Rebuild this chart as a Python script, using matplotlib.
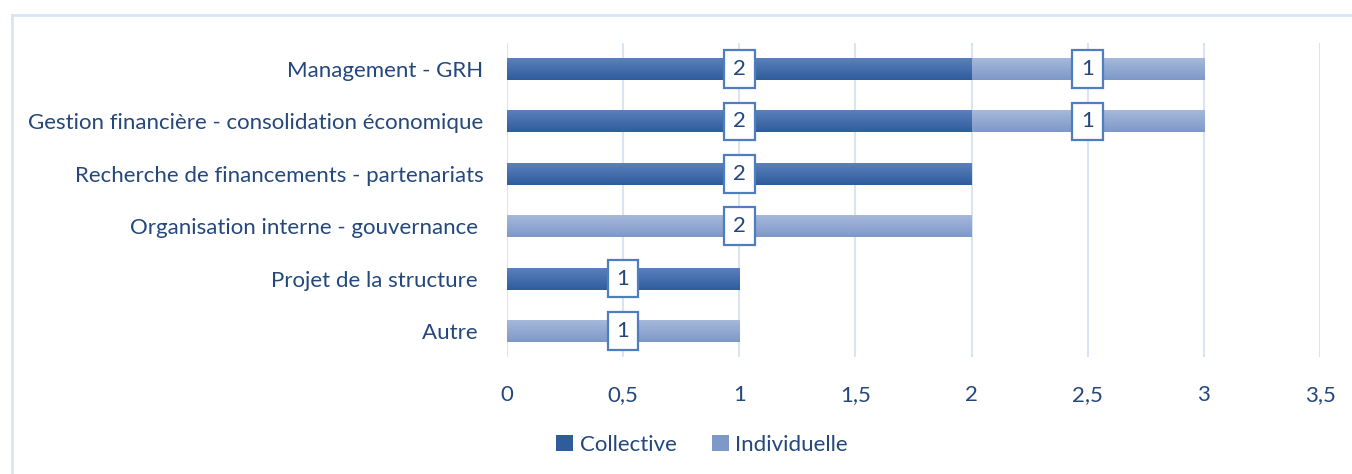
import numpy as np
import matplotlib.pyplot as plt
from matplotlib.colors import LinearSegmentedColormap
from matplotlib.patches import Rectangle

categories = [
    "Management - GRH",
    "Gestion financière - consolidation économique",
    "Recherche de financements - partenariats",
    "Organisation interne - gouvernance ",
    "Projet de la structure ",
    "Autre ",
]
collective = [2, 2, 2, 0, 1, 0]
individuelle = [1, 1, 0, 2, 0, 1]
xticks = [0, 0.5, 1, 1.5, 2, 2.5, 3, 3.5]

TXT = "#24477C"
GRID = "#DAE4F3"
COL_TOP, COL_BOT = "#5A80BC", "#2F5D9C"
IND_TOP, IND_BOT = "#A6B9DC", "#7E98C8"

plt.rcParams['font.family'] = ['Lato', 'DejaVu Sans']

fig = plt.figure(figsize=(13.52, 4.74), dpi=100)
ax = fig.add_axes([0.375, 0.2468, 0.6013, 0.6625])

# outer chart frame (only top and left edges are inside the picture)
fig.patches.append(Rectangle((12 / 1352, -0.2), 1.2, 1.2 - 15 / 474, transform=fig.transFigure,
                             fill=False, edgecolor=GRID, linewidth=2, zorder=0))

y = np.arange(len(categories))
h = 0.42
b1 = ax.barh(y, collective, height=h, color=COL_BOT, zorder=2)
b2 = ax.barh(y, individuelle, left=collective, height=h, color=IND_BOT, zorder=2)

grad = np.linspace(0, 1, 64).reshape(-1, 1)
for bars, top, bot in [(b1, COL_TOP, COL_BOT), (b2, IND_TOP, IND_BOT)]:
    cmap = LinearSegmentedColormap.from_list("g", [top, bot])
    for p in bars:
        if p.get_width() <= 0:
            continue
        x0, y0 = p.get_x(), p.get_y()
        ax.imshow(grad, cmap=cmap, aspect='auto', zorder=3,
                  extent=(x0, x0 + p.get_width(), y0 + p.get_height(), y0),
                  interpolation='bicubic')

# value labels
for bars in (b1, b2):
    for p in bars:
        w = p.get_width()
        if w <= 0:
            continue
        ax.text(p.get_x() + w / 2, p.get_y() + p.get_height() / 2, f"{w:g}",
                ha='center', va='center', fontsize=16, color=TXT, zorder=5,
                bbox=dict(boxstyle='square,pad=0.4', fc='white', ec='#4F7EC0', lw=1.6))

ax.set_xlim(0, 3.5)
ax.set_ylim(len(categories) - 0.5, -0.5)
ax.set_xticks(xticks)
ax.set_xticklabels([f"{t:g}".replace('.', ',') for t in xticks])
ax.set_yticks(y)
ax.set_yticklabels(categories)
ax.tick_params(axis='both', length=0, labelsize=16, colors=TXT)
ax.tick_params(axis='x', pad=20)
ax.tick_params(axis='y', pad=17)
ax.grid(axis='x', color=GRID, linewidth=1.5, zorder=0)
ax.set_axisbelow(True)
for s in ax.spines.values():
    s.set_visible(False)

leg = ax.legend([b1, b2], ["Collective", "Individuelle"], loc='center',
                bbox_to_anchor=(0.24, -0.28), ncol=2, frameon=False, fontsize=16,
                handlelength=0.75, handleheight=0.75, handletextpad=0.3, columnspacing=1.6)
for t in leg.get_texts():
    t.set_color(TXT)

fig.savefig("out.png", dpi=100)
